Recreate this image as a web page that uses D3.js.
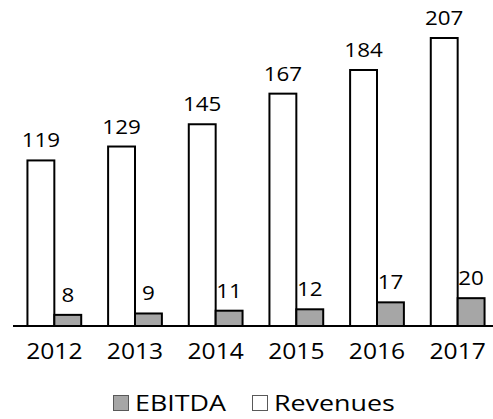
<!DOCTYPE html>
<html>
<head>
<meta charset="utf-8">
<script src="https://cdn.jsdelivr.net/npm/d3@7"></script>
<style>
  body { margin: 0; background: #fff; }
  text { font-family: "Open Sans", sans-serif; fill: #000; }
</style>
</head>
<body>
<svg id="chart" width="493" height="419"></svg>
<script>
const years = ["2012", "2013", "2014", "2015", "2016", "2017"];
const revenues = [119, 129, 145, 167, 184, 207];
const ebitda = [8, 9, 11, 12, 17, 20];
const seriesNames = ["Revenues", "EBITDA"];
const legendItems = ["EBITDA", "Revenues"];

const colors = { Revenues: "#ffffff", EBITDA: "#a6a6a6" };

// the source text is a bit wider than Open Sans
const stretch = 1.12;
const legendStretch = 1.22;

const svg = d3.select("#chart");
const baseline = 326;

const x = d3.scaleBand().domain(years).range([14, 498]);
const xSub = d3
  .scaleBand()
  .domain(seriesNames)
  .range([0, x.bandwidth()])
  .paddingOuter(0.5);
const y = d3.scaleLinear().domain([0, d3.max(revenues)]).range([baseline, 38]);

const rows = years.map((yr, i) => ({
  year: yr,
  values: [
    { key: "Revenues", value: revenues[i] },
    { key: "EBITDA", value: ebitda[i] },
  ],
}));

const groups = svg
  .selectAll("g.year")
  .data(rows)
  .enter()
  .append("g")
  .attr("class", "year")
  .attr("transform", (d) => "translate(" + x(d.year) + ",0)");

groups
  .selectAll("rect")
  .data((d) => d.values)
  .enter()
  .append("rect")
  .attr("x", (d) => xSub(d.key))
  .attr("y", (d) => y(d.value))
  .attr("width", xSub.bandwidth())
  .attr("height", (d) => baseline - y(d.value))
  .attr("fill", (d) => colors[d.key])
  .attr("stroke", "#000")
  .attr("stroke-width", 2);

groups
  .selectAll("text.val")
  .data((d) => d.values)
  .enter()
  .append("text")
  .attr("class", "val")
  .attr("transform", (d) =>
    "translate(" + (xSub(d.key) + xSub.bandwidth() / 2) + "," + (y(d.value) - 13) + ") scale(" + stretch + ",1)"
  )
  .attr("text-anchor", "middle")
  .style("font-size", "20px")
  .text((d) => d.value);

// x axis
svg
  .append("g")
  .attr("transform", "translate(0," + baseline + ")")
  .call(d3.axisBottom(x).tickSize(0))
  .call((g) => g.select(".domain").attr("d", "M13,0H493").attr("stroke", "#000").attr("stroke-width", 2))
  .call((g) =>
    g.selectAll(".tick text")
      .attr("font-family", null)
      .style("font-size", "22px")
      .attr("dy", null)
      .attr("y", null)
      .attr("transform", "translate(0,33) scale(" + stretch + ",1)")
  );

// legend
const legend = svg.append("g").attr("class", "legend");
const legendX = [113, 252];
legendItems.forEach((name, i) => {
  legend
    .append("rect")
    .attr("x", legendX[i] + 0.5)
    .attr("y", 395.5)
    .attr("width", 15)
    .attr("height", 15)
    .attr("fill", colors[name])
    .attr("stroke", "#595959")
    .attr("stroke-width", 1);
  legend
    .append("text")
    .attr("transform", "translate(" + (legendX[i] + 22) + ",411) scale(" + legendStretch + ",1)")
    .style("font-size", "22px")
    .text(name);
});
</script>
</body>
</html>
